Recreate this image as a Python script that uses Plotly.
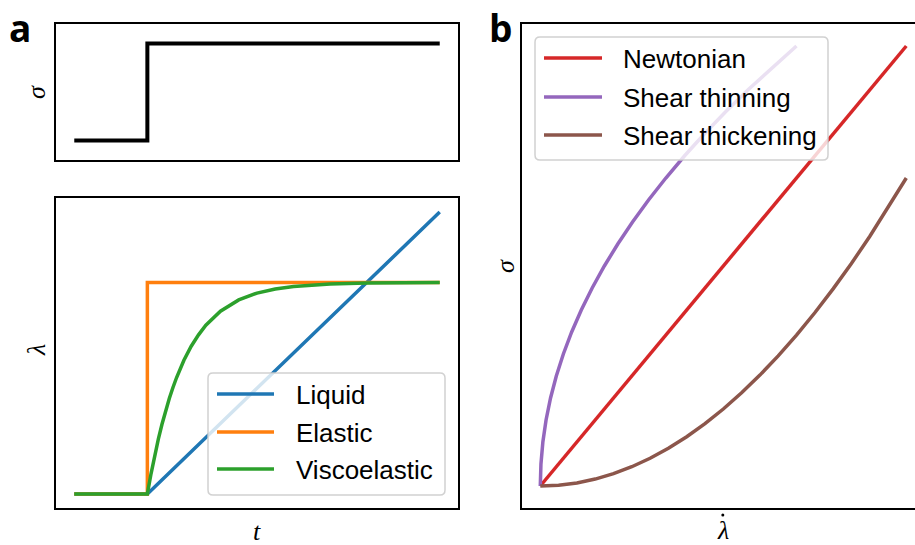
import plotly.graph_objects as go

# ---------------- data ----------------
# panel a (top): applied stress step
step_t = [0.0, 0.2, 0.2, 1.0]
step_sigma = [0.0, 0.0, 1.0, 1.0]

# panel a (bottom): strain responses
liquid_t = [0.0, 0.2, 1.0]
liquid_strain = [0.0, 0.0, 0.8]

elastic_t = [0.0, 0.2, 0.2, 1.0]
elastic_strain = [0.0, 0.0, 0.6, 0.6]

visco_t = [0.0, 0.2, 0.21, 0.22, 0.23, 0.24, 0.25, 0.26, 0.27, 0.28, 0.30, 0.32,
           0.34, 0.36, 0.40, 0.45, 0.50, 0.55, 0.60, 0.70, 0.80, 0.90, 1.00]
visco_strain = [0.0, 0.0, 0.0571, 0.1088, 0.1555, 0.1978, 0.2361, 0.2707, 0.3020,
                0.3304, 0.3793, 0.4193, 0.4515, 0.4789, 0.5188, 0.5507, 0.5701,
                0.5819, 0.5890, 0.5960, 0.5985, 0.5995, 0.5998]

# panel b: flow curves
newton_rate = [0.0, 1.0]
newton_stress = [0.0, 1.0]

thin_rate = [0.0, 0.00175, 0.007, 0.01575, 0.028, 0.04375, 0.063, 0.08575, 0.112,
             0.14175, 0.175, 0.21175, 0.252, 0.29575, 0.343, 0.39375, 0.448,
             0.50575, 0.567, 0.63175, 0.7]
thin_stress = [0.0, 0.05, 0.1, 0.15, 0.2, 0.25, 0.3, 0.35, 0.4, 0.45, 0.5, 0.55,
               0.6, 0.65, 0.7, 0.75, 0.8, 0.85, 0.9, 0.95, 1.0]

thick_rate = [0.0, 0.05, 0.1, 0.15, 0.2, 0.25, 0.3, 0.35, 0.4, 0.45, 0.5, 0.55,
              0.6, 0.65, 0.7, 0.75, 0.8, 0.85, 0.9, 0.95, 1.0]
thick_stress = [0.0, 0.00175, 0.007, 0.01575, 0.028, 0.04375, 0.063, 0.08575, 0.112,
                0.14175, 0.175, 0.21175, 0.252, 0.29575, 0.343, 0.39375, 0.448,
                0.50575, 0.567, 0.63175, 0.7]

legend_a_labels = ["Liquid", "Elastic", "Viscoelastic"]
legend_b_labels = ["Newtonian", "Shear thinning", "Shear thickening"]

# ---------------- style ----------------
W, H = 915, 545
BLUE, ORANGE, GREEN = "#1f77b4", "#ff7f0e", "#2ca02c"
RED, PURPLE, BROWN = "#d62728", "#9467bd", "#8c564b"
LW = 3.5
TEXT_FONT = "Liberation Sans, Arial, sans-serif"
MATH_FONT = "Liberation Serif, Times New Roman, serif"


def px(x):
    return x / W


def py(y):
    return 1 - y / H


fig = go.Figure()

fig.add_trace(go.Scatter(x=step_t, y=step_sigma, mode="lines",
                         line=dict(color="black", width=4), showlegend=False,
                         xaxis="x", yaxis="y"))

for tx, sy, col, name in [(liquid_t, liquid_strain, BLUE, legend_a_labels[0]),
                          (elastic_t, elastic_strain, ORANGE, legend_a_labels[1]),
                          (visco_t, visco_strain, GREEN, legend_a_labels[2])]:
    fig.add_trace(go.Scatter(x=tx, y=sy, mode="lines", name=name,
                             line=dict(color=col, width=LW), showlegend=False,
                             xaxis="x2", yaxis="y2"))

for rx, sy, col, name in [(newton_rate, newton_stress, RED, legend_b_labels[0]),
                          (thin_rate, thin_stress, PURPLE, legend_b_labels[1]),
                          (thick_rate, thick_stress, BROWN, legend_b_labels[2])]:
    fig.add_trace(go.Scatter(x=rx, y=sy, mode="lines", name=name,
                             line=dict(color=col, width=LW), showlegend=False,
                             xaxis="x3", yaxis="y3"))

ax_common = dict(showgrid=False, zeroline=False, showticklabels=False, ticks="",
                 showline=True, linecolor="black", linewidth=2)

fig.update_layout(
    width=W, height=H, margin=dict(l=0, r=0, t=0, b=0),
    paper_bgcolor="white", plot_bgcolor="white",
    xaxis=dict(ax_common, domain=[px(56), px(458)], range=[-0.05, 1.05], mirror=True, anchor="y"),
    yaxis=dict(ax_common, domain=[py(160), py(24)], range=[-0.2, 1.2], mirror=True, anchor="x"),
    xaxis2=dict(ax_common, domain=[px(56), px(458)], range=[-0.05, 1.05], mirror=True, anchor="y2"),
    yaxis2=dict(ax_common, domain=[py(508), py(198)], range=[-0.04, 0.84], mirror=True, anchor="x2"),
    xaxis3=dict(ax_common, domain=[px(522), 1.0], range=[-0.05, 1.05 - 9.6 / 366], mirror=True, anchor="y3"),
    yaxis3=dict(ax_common, domain=[py(508), py(24)], range=[-0.05, 1.05], mirror=False, anchor="x3"),
)

shapes = []
annotations = []


def rounded_box(x0, y0, x1, y1, r=5):
    a, b = px(x0), py(y0)
    c, d = px(x1), py(y1)
    rx, ry = r / W, r / H
    path = (f"M{a + rx},{b} L{c - rx},{b} Q{c},{b} {c},{b - ry} "
            f"L{c},{d + ry} Q{c},{d} {c - rx},{d} L{a + rx},{d} Q{a},{d} {a},{d + ry} "
            f"L{a},{b - ry} Q{a},{b} {a + rx},{b} Z")
    return dict(type="path", xref="paper", yref="paper", path=path,
                fillcolor="rgba(255,255,255,0.8)",
                line=dict(color="rgba(204,204,204,0.9)", width=1.5), layer="above")


def legend(box, lx0, lx1, tx, ys, labels, colors):
    shapes.append(rounded_box(*box))
    for yy, lab, col in zip(ys, labels, colors):
        shapes.append(dict(type="line", xref="paper", yref="paper",
                           x0=px(lx0), x1=px(lx1), y0=py(yy), y1=py(yy),
                           line=dict(color=col, width=LW), layer="above"))
        annotations.append(dict(xref="paper", yref="paper", x=px(tx), y=py(yy + 1),
                                text=lab, showarrow=False, xanchor="left", yanchor="middle",
                                font=dict(family=TEXT_FONT, size=26, color="black")))


legend((208, 373, 445, 495), 217, 274, 294, [394, 432, 469], legend_a_labels,
       [BLUE, ORANGE, GREEN])
legend((535, 37, 828, 160), 544, 602, 621, [58, 97, 135], legend_b_labels,
       [RED, PURPLE, BROWN])


def label(x, y, text, angle=0, size=26):
    annotations.append(dict(xref="paper", yref="paper", x=px(x), y=py(y), text=text,
                            showarrow=False, xanchor="center", yanchor="middle",
                            textangle=angle,
                            font=dict(family=MATH_FONT, size=size, color="black",
                                      style="italic")))


label(36, 92, "σ", angle=-90)
label(36, 350, "λ", angle=-90)
label(257, 531, "t")
label(505, 266, "σ", angle=-90)
label(723, 530, "λ")
# overdot of the rate symbol
shapes.append(dict(type="circle", xref="paper", yref="paper",
                   x0=px(721.3), x1=px(724.3), y0=py(513.5), y1=py(516.5),
                   fillcolor="black", line=dict(width=0)))

for x, t in [(20, "a"), (501, "b")]:
    annotations.append(dict(xref="paper", yref="paper", x=px(x), y=1.0, text=t,
                            showarrow=False, xanchor="center", yanchor="top",
                            font=dict(family="Open Sans, DejaVu Sans, sans-serif",
                                      size=37, color="black", weight="bold")))

fig.update_layout(shapes=shapes, annotations=annotations)
fig.write_html("out.html", config={"displayModeBar": False},
               post_script="document.body.style.margin='0';document.body.style.overflow='hidden';")
